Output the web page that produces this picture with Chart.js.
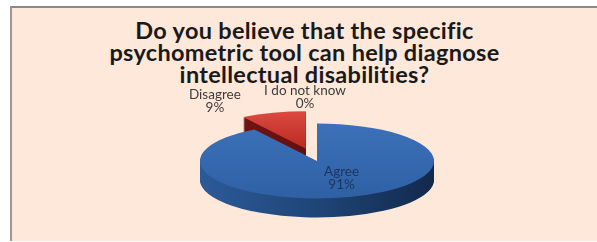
<!DOCTYPE html>
<html>
<head>
<meta charset="utf-8">
<script src="https://cdn.jsdelivr.net/npm/chart.js@4.4.0/dist/chart.umd.min.js"></script>
<style>
  html, body { margin: 0; padding: 0; background: #fff; }
  body { width: 597px; height: 242px; position: relative; overflow: hidden; }
  #panel { position: absolute; left: 10px; top: 6px; right: 0; bottom: 1px; background: #fde8da;
           border-left: 2px solid #9c9894; border-top: 2px solid #8f8783; }
  #title { position: absolute; left: 12px; right: 0; top: 19px; text-align: center;
           font: bold 23.5px Lato, sans-serif; letter-spacing: 0.3px; line-height: 22px; color: #1a1a1a; }
  canvas { position: absolute; left: 0; top: 0; }
</style>
</head>
<body>
<div id="panel"></div>
<div id="title">Do you believe that the specific<br>psychometric tool can help diagnose<br>intellectual disabilities?</div>
<canvas id="chartPie" width="597" height="242"></canvas>
<script>
const categories = ['Agree', 'Disagree', 'I do not know'];
const percents = [91, 9, 0];

// look of the fake 3d pie
const tilt = 0.32;
const depth = 19;
const explode = [0, 40, 0];
const labelNudge = [[5, -4], [-42, 6], [-12, -8]];

const pie3d = {
  id: 'pie3d',
  beforeDatasetsDraw(chart) {
    const ctx = chart.ctx;
    const arcs = chart.getDatasetMeta(0).data;
    const cx = arcs[0].x, cy = arcs[0].y, r = arcs[0].outerRadius;

    const blueSide = ctx.createLinearGradient(cx - r, 0, cx + r, 0);
    blueSide.addColorStop(0, '#2c5a98');
    blueSide.addColorStop(0.5, '#1f4577');
    blueSide.addColorStop(1, '#13294b');
    const redSide = ctx.createLinearGradient(cx - r, 0, cx + r, 0);
    redSide.addColorStop(0, '#7c1616');
    redSide.addColorStop(1, '#4a0909');
    const blueTop = ctx.createLinearGradient(0, cy - r, 0, cy + r);
    blueTop.addColorStop(0, '#3b71b9');
    blueTop.addColorStop(1, '#2f60a4');
    const redTop = ctx.createLinearGradient(0, cy - r, 0, cy);
    redTop.addColorStop(0, '#dc4a40');
    redTop.addColorStop(1, '#b92a22');

    const layer = (dy, colors) => {
      arcs.forEach((arc, i) => {
        const mid = (arc.startAngle + arc.endAngle) / 2;
        const ox = Math.cos(mid) * explode[i], oy = Math.sin(mid) * explode[i];
        ctx.save();
        ctx.translate(cx, cy + dy);
        ctx.scale(1, tilt);
        ctx.translate(-cx + ox, -cy + oy);
        const fake = Object.create(arc);
        fake.options = Object.assign({}, arc.options, {backgroundColor: colors[i], borderWidth: 0});
        arc.draw.call(fake, ctx);
        ctx.restore();
      });
    };
    for (let dy = depth; dy > 0; dy--) layer(dy, [blueSide, redSide, redSide]);
    layer(0, [blueTop, redTop, redTop]);
    return false;
  },
  afterDraw(chart) {
    const ctx = chart.ctx;
    const arcs = chart.getDatasetMeta(0).data;
    ctx.save();
    ctx.font = '13.5px Lato, sans-serif';
    ctx.textAlign = 'center';
    ctx.textBaseline = 'middle';
    arcs.forEach((arc, i) => {
      const mid = (arc.startAngle + arc.endAngle) / 2;
      const r = arc.outerRadius;
      const ex = arc.x + Math.cos(mid) * explode[i];
      const ey = arc.y + Math.sin(mid) * explode[i] * tilt;
      const d = i === 0 ? r * 0.6 : r * 1.5;
      const x = ex + Math.cos(mid) * d + labelNudge[i][0];
      const y = ey + Math.sin(mid) * d * tilt + labelNudge[i][1];
      ctx.fillStyle = i === 0 ? '#1c355e' : '#3c3c3c';
      ctx.fillText(categories[i], x, y - 6.5);
      ctx.fillText(percents[i] + '%', x, y + 6.5);
    });
    ctx.restore();
  }
};

new Chart(document.getElementById('chartPie'), {
  type: 'pie',
  data: {
    labels: categories,
    datasets: [{
      data: percents,
      backgroundColor: ['#3468ae', '#c8352e', '#c8352e'],
      borderWidth: 0
    }]
  },
  options: {
    responsive: false,
    animation: false,
    radius: 117,
    layout: {padding: {left: 37, right: 0, top: 80, bottom: 0}},
    plugins: {
      legend: {display: false},
      tooltip: {enabled: false}
    }
  },
  plugins: [pie3d]
});
</script>
</body>
</html>
